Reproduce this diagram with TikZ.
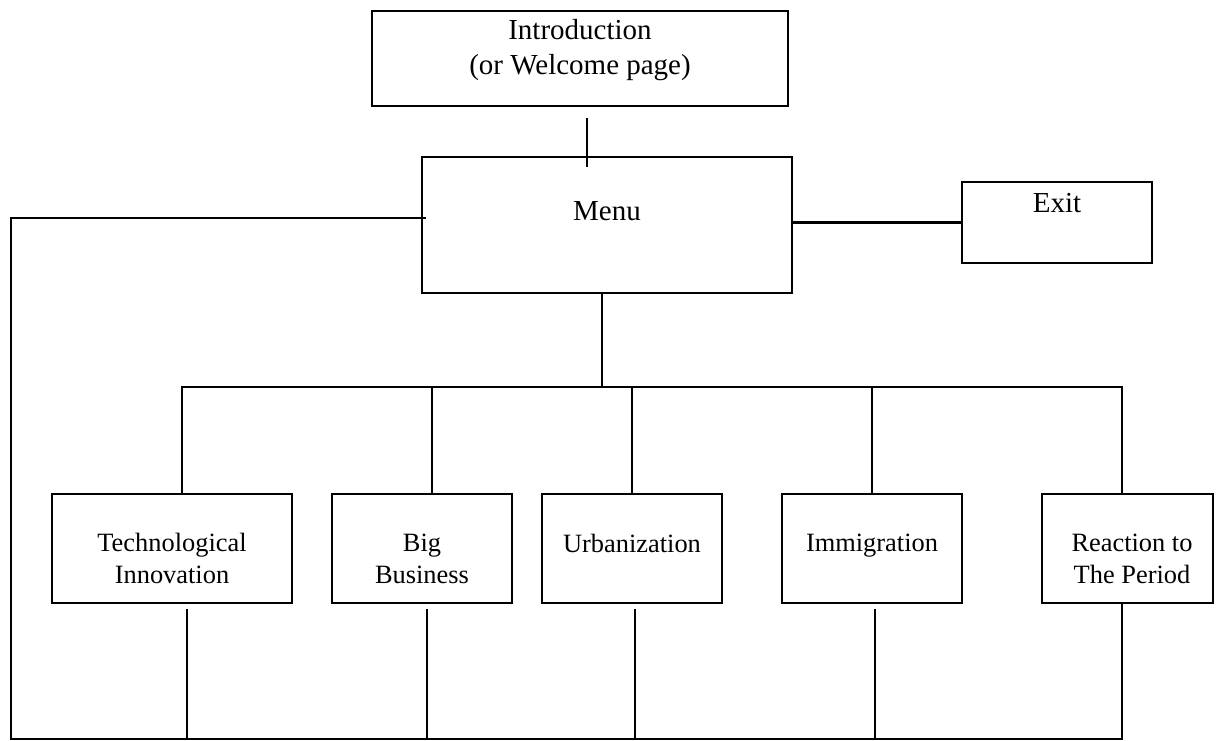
\documentclass[tikz,border=0pt]{standalone}
\usepackage{fontspec}
\setmainfont{Liberation Serif}
\usetikzlibrary{calc}
\begin{document}
\begin{tikzpicture}[x=0.5pt,y=-0.5pt,
  box/.style={draw,line width=1.3pt,inner sep=0pt},
  lowbox/.style={box,line width=1.1pt,minimum height=54.5pt,minimum width=90pt},
  conn/.style={line width=1.05pt},
  bigtxt/.style={inner sep=0pt,align=center,font=\fontsize{14.5pt}{17.5pt}\selectfont},
  smalltxt/.style={inner sep=0pt,align=center,font=\fontsize{13.2pt}{16pt}\selectfont}]
\useasboundingbox[fill=white] (0,0) rectangle (1216,740);
% boxes
\node[box,minimum width=208pt,minimum height=47.5pt] (intro) at (580,58.5) {};
\node[box,minimum width=185pt,minimum height=68pt] (menu) at (607,225) {};
\node[box,minimum width=95pt,minimum height=40.5pt] (exit) at (1057,222.5) {};
\node[lowbox,minimum width=120pt] (tech) at (172,548.5) {};
\node[lowbox] (big) at (422,548.5) {};
\node[lowbox] (urban) at (632,548.5) {};
\node[lowbox] (immig) at (872,548.5) {};
\node[lowbox,minimum width=85.5pt] (react) at (1127.5,548.5) {};
% texts
\node[bigtxt] (introtxt) at (580,50.5) {Introduction\\(or Welcome page)};
\node[bigtxt] (menutxt) at (607,211) {Menu};
\node[bigtxt] (exittxt) at (1057,203) {Exit};
\node[smalltxt] (techtxt) at (172,558) {Technological\\Innovation};
\node[smalltxt] (bigtxt) at (422,559) {Big\\Business};
\node[smalltxt] (urbantxt) at (632,543) {Urbanization};
\node[smalltxt] (immigtxt) at (872,546) {Immigration};
\node[smalltxt] (reacttxt) at (1132,559) {Reaction to\\The Period};
% connectors
\draw[conn] ($(intro.south)+(7,11)$) -- ($(menu.north)+(-20,11)$);
\draw[conn] (exit.west -| menu.east) -- (exit.west);
\coordinate (bl) at (11,739);
\draw[conn] ($(menu.west)+(5,-7)$) -| (bl) -| ($(react.south)+(-5.5,0)$);
\draw[conn] ($(menu.south)+(-5,0)$) -- ++(0,93) coordinate (busmid);
\draw[conn] ($(tech.north)+(10,0)$) |- (busmid) -| ($(react.north)+(-5.5,0)$);
\draw[conn] ($(big.north)+(10,0)$) -- ++(0,-107);
\draw[conn] (urban.north) -- ++(0,-107);
\draw[conn] (immig.north) -- ++(0,-107);
\draw[conn] ($(tech.south)+(15,5)$) -- ++(0,131);
\draw[conn] ($(big.south)+(5,5)$) -- ++(0,131);
\draw[conn] ($(urban.south)+(3,5)$) -- ++(0,131);
\draw[conn] ($(immig.south)+(3,5)$) -- ++(0,131);
\end{tikzpicture}
\end{document}
